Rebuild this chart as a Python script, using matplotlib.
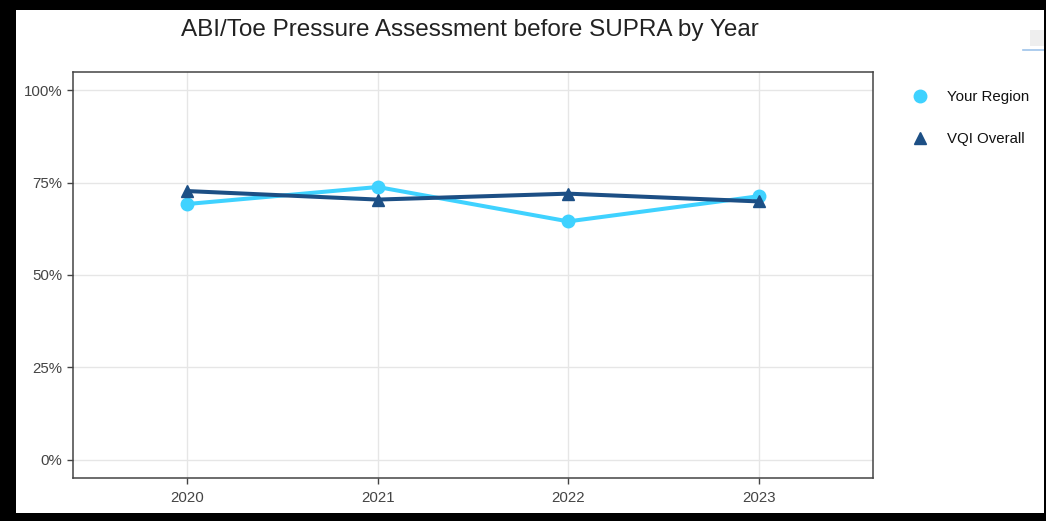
import matplotlib
matplotlib.use("Agg")
import matplotlib.pyplot as plt
from matplotlib.lines import Line2D
from matplotlib.patches import Rectangle, FancyBboxPatch
from matplotlib.ticker import FuncFormatter

plt.rcParams['font.family'] = ['Liberation Sans', 'DejaVu Sans']

years = [2020, 2021, 2022, 2023]
your_region = [0.692, 0.738, 0.645, 0.713]
vqi_overall = [0.727, 0.704, 0.720, 0.699]
y_ticks = [0, 0.25, 0.5, 0.75, 1.0]
title = "ABI/Toe Pressure Assessment before SUPRA by Year"

c_region = "#3fd2ff"
c_vqi = "#1c4f85"
c_axis = "#444444"

W, H = 1046, 521
fig = plt.figure(figsize=(W / 100, H / 100), dpi=100)
fig.patch.set_facecolor("white")

ax = fig.add_axes([73 / W, 1 - 478 / H, 800 / W, 406 / H])
ax.plot(years, your_region, color=c_region, lw=2.9, marker="o", ms=9,
        solid_joinstyle="round", zorder=3)
ax.plot(years, vqi_overall, color=c_vqi, lw=2.9, marker="^", ms=8,
        solid_joinstyle="round", zorder=4)

ax.set_xlim(2019.4, 2023.6)
ax.set_ylim(-0.049, 1.049)
ax.set_xticks(years)
ax.set_xticklabels([str(y) for y in years])
ax.set_yticks(y_ticks)
ax.yaxis.set_major_formatter(FuncFormatter(lambda v, p: f"{v * 100:.0f}%"))
ax.grid(True, color="#e6e6e6", lw=1.0)
ax.set_axisbelow(True)
for s in ax.spines.values():
    s.set_color(c_axis)
    s.set_linewidth(1.1)
ax.tick_params(axis="both", colors=c_axis, labelcolor=c_axis, labelsize=10.8,
               length=4.5, width=1.0, direction="out")
ax.tick_params(axis="x", pad=5)
ax.tick_params(axis="y", pad=3)

fig.text(470 / W, 1 - 30 / H, title, ha="center", va="center",
         fontsize=17.5, color="#222222")

handles = [
    Line2D([], [], color=c_region, marker="o", ls="none", ms=9),
    Line2D([], [], color=c_vqi, marker="^", ls="none", ms=8),
]
fig.legend(handles, ["Your Region", "VQI Overall"], loc="upper left",
           bbox_to_anchor=(905 / W, 1 - 84 / H), frameon=False,
           fontsize=10.8, labelspacing=1.85, handletextpad=1.2,
           handlelength=1.2, borderaxespad=0, labelcolor="#111111")

# toolbar remnant at the top right
fig.add_artist(FancyBboxPatch((1030 / W, 1 - 46 / H), 20 / W, 16 / H,
                              boxstyle="round,pad=0", transform=fig.transFigure,
                              facecolor="#eeeeee", edgecolor="none"))
fig.add_artist(Line2D([1023 / W, 1], [1 - 50 / H, 1 - 50 / H],
                      transform=fig.transFigure, color="#9ec3ea", lw=1.2))

# black frame around the whole chart
for (x0, y0, w, h) in [(0, 0, 16, H), (0, 0, W, 10), (0, 513, W, 8),
                       (1044, 0, 2, H)]:
    fig.add_artist(Rectangle((x0 / W, 1 - (y0 + h) / H), w / W, h / H,
                             transform=fig.transFigure, facecolor="black",
                             edgecolor="none", zorder=10))

fig.savefig("out.png", dpi=100)
